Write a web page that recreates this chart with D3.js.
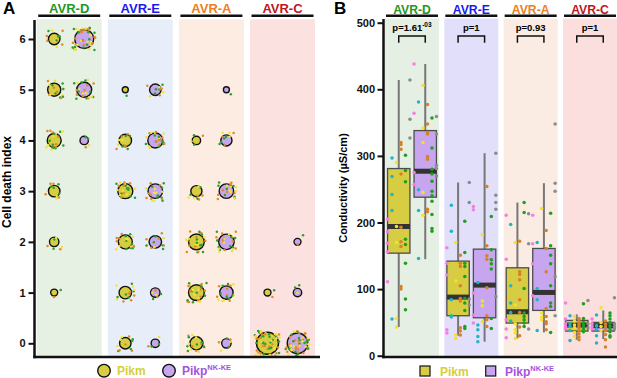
<!DOCTYPE html>
<html><head><meta charset="utf-8">
<script src="https://cdn.jsdelivr.net/npm/d3@7"></script>
<style>
body{margin:0;background:#fff}
svg{display:block;font-family:"Liberation Sans",Arial,Helvetica,sans-serif;font-weight:bold}
</style>
</head><body>
<svg id="c" width="617" height="378"></svg>
<script>
// ---------- data ----------
const effectors = ["AVR-D","AVR-E","AVR-A","AVR-C"];
const constructs = ["Pikm","Pikp"];
const scores = [0,1,2,3,4,5,6];
const effectorColors = ["#1f981f","#1a1aee","#ef7d22","#c0161c"];
const bgA = ["#e6f0e3","#e8eef9","#fcece1","#fbe2e0"];
const bgB = ["#e5efe3","#e1dffa","#fbece3","#fadfde"];
const constructFill = ["#d6cd42","#c7a6ef"];
const legendTextColor = ["#d4cf3a","#a552dd"];

// Panel A: number of leaves per cell death score (index = score 0..6)
const deathPikm = [
  [0,2,6,11,19,16,11],
  [11,14,19,23,14,1,0],
  [16,26,26,10,4,0,0],
  [60,2,0,0,0,0,0]
];
const deathPikp = [
  [0,0,0,0,4,23,42],
  [4,6,14,21,23,11,0],
  [6,17,25,21,10,1,0],
  [51,4,2,0,0,0,0]
];
const repAColors = ["#2ca02c","#e0892c","#f1e33a"];

// Panel B: box stats [low whisker, q1, median, q3, high whisker]
const boxPikm = [[43,154,194,281,414],[30,60,88,142,260],[26,49,66,132,230],[24,37,46,53,62]];
const boxPikp = [[145,238,277,338,438],[21,57,106,160,304],[35,68,95,161,259],[25,37,45,50,68]];
const pLabels = ["p=1.61","p=1","p=0.93","p=1"];
const pExponents = ["-03","","",""];
const repBColors = ["#f47fe0","#1fb5c7","#f4e12c","#d5812b","#1f9e1f","#8c8c8c"];
// conductivity values per effector, per replicate
const condPikm = [
 [[205,186,169,156,111],[297,269,242,218,55],[290,194,170,56,43],[320,317,310,273,193,171,164,104,100],[301,278,261,175,167,139,85,69],[414,355,327]],
 [[162,139,121,39,34],[226,187,84,60,58],[170,112,31,26],[151,139,134,105,86,82,42,37,31],[202,155,139,134,119,86,79,68,44,41],[260,230,85,76]],
 [[211,145,54,40,27],[197,105,79,65,52],[170,76,48,39,34,26],[172,126,122,114,84,65,43,30],[230,215,101,64,59,54,49,44],[213,168,40]],
 [[79,55,48,44,40],[60,48,44,38,23],[59,52,46,42,35,29],[56,52,48,45,42,38,33,28,24],[78,56,50,46,43,40,36],[83,48,42]]
];
const condPikp = [
 [[438,364,275,257],[381,249,218,146],[406,342,320,245,211],[377,348,335,333,299,295,220,216],[357,312,280,273,262,247,240,232,212,191,187],[359,333,286,281,270]],
 [[224,219,94,61,49],[110,46,39,29,21],[182,82,75,51],[254,165,150,145,102,60,54,44],[209,159,144,138,130,56,41],[304,241,230,220,89]],
 [[211,168,138,90],[170,101,84,38],[221,64,58,54],[188,161,126,71,59,51,48,39],[214,165,151,138,105,79,74,35],[348,259,247,119,60]],
 [[55,48,44,40],[61,45,40,30,19],[72,50,44,38],[52,47,43,38,32,24,13],[64,60,55,50,45,41,36,30,28],[87,48,44,40]]
];
const yTicksB = [0,100,200,300,400,500];

// ---------- helpers ----------
function mulberry32(a){return function(){a|=0;a=a+0x6D2B79F5|0;let t=Math.imul(a^a>>>15,1|a);t=t+Math.imul(t^t>>>7,61|t)^t;return((t^t>>>14)>>>0)/4294967296;};}
const jit = mulberry32(12345);

const svg = d3.select("#c");

// ================= Panel A =================
const xA = d3.scaleBand().domain(effectors).range([36.7,315]).paddingInner(0.086);
const subA = d3.scalePoint().domain(constructs).range([0,xA.bandwidth()]).padding(0.583);
const yA = d3.scaleLinear().domain([0,6]).range([343.3,39]);
const rA = d3.scaleSqrt().domain([1,60]).range([3,11]);

const gA = svg.append("g");
gA.append("text").attr("x",3).attr("y",14).attr("font-size",17).text("A");

effectors.forEach((e,i)=>{
  gA.append("rect").attr("x",xA(e)).attr("y",19.3).attr("width",xA.bandwidth()).attr("height",356-19.3).attr("fill",bgA[i]);
  gA.append("text").attr("x",xA(e)+xA.bandwidth()/2).attr("y",13.4).attr("text-anchor","middle")
    .attr("font-size",13).attr("fill",effectorColors[i]).text(e);
  gA.append("line").attr("x1",xA(e)+1.5).attr("x2",xA(e)+xA.bandwidth()-1.5).attr("y1",15.8).attr("y2",15.8)
    .attr("stroke","#111").attr("stroke-width",2.4);
});

const cellsA = [];
effectors.forEach((e,i)=>{
  [deathPikm[i],deathPikp[i]].forEach((arr,j)=>{
    arr.forEach((n,s)=>{ if(n>0) cellsA.push({e, c:constructs[j], j, s, n}); });
  });
});
gA.selectAll("circle.cnt").data(cellsA).join("circle").attr("class","cnt")
  .attr("cx",d=>xA(d.e)+subA(d.c)).attr("cy",d=>yA(d.s)).attr("r",d=>rA(d.n))
  .attr("fill",d=>constructFill[d.j]).attr("stroke","#111").attr("stroke-width",1.4);
const dotsA = [];
cellsA.forEach(d=>{
  const r = rA(d.n), w = r*0.8+4;
  for(let k=0;k<d.n;k++){
    dotsA.push({x:xA(d.e)+subA(d.c)+(jit()*2-1)*w, y:yA(d.s)+(jit()*2-1)*w, col:repAColors[k%3]});
  }
});
gA.selectAll("circle.dot").data(dotsA).join("circle").attr("class","dot")
  .attr("cx",d=>d.x).attr("cy",d=>d.y).attr("r",1.25).attr("fill",d=>d.col);

const axA = gA.append("g").attr("transform","translate(34.5,0)")
  .call(d3.axisLeft(yA).tickValues(scores).tickSize(6).tickPadding(3).tickFormat(d3.format("d")));
axA.select(".domain").remove();
axA.selectAll("line").attr("stroke","#111").attr("stroke-width",2);
axA.selectAll("text").attr("font-size",11).attr("font-weight","bold").attr("fill","#111").attr("font-family","Liberation Sans, Arial, sans-serif");
gA.append("line").attr("x1",34.5).attr("x2",34.5).attr("y1",20).attr("y2",358.2).attr("stroke","#111").attr("stroke-width",2.5);
gA.append("line").attr("x1",33.3).attr("x2",320).attr("y1",357).attr("y2",357).attr("stroke","#111").attr("stroke-width",2.5);
gA.append("text").attr("transform","translate(11,182) rotate(-90)").attr("text-anchor","middle")
  .attr("font-size",12).text("Cell death index");

// legend A
[[104,0],[169,1]].forEach(([x,j])=>{
  gA.append("circle").attr("cx",x).attr("cy",370.7).attr("r",6.3).attr("fill",constructFill[j]).attr("stroke","#111").attr("stroke-width",1.4);
});
gA.append("text").attr("x",117).attr("y",375).attr("font-size",12).attr("fill",legendTextColor[0]).text("Pikm");
const tA = gA.append("text").attr("x",182).attr("y",375).attr("font-size",12).attr("fill",legendTextColor[1]);
tA.append("tspan").text("Pikp");
tA.append("tspan").attr("font-size",7.5).attr("dy",-5).text("NK-KE");

// ================= Panel B =================
const xB = d3.scaleBand().domain(effectors).range([385,617]).paddingInner(0.09);
const subB = d3.scaleBand().domain(constructs).range([0,xB.bandwidth()]).paddingInner(0.155).paddingOuter(0.096);
const yB = d3.scaleLinear().domain([0,500]).range([355.7,22.7]);
const repX = d3.scalePoint().domain(d3.range(6)).range([0,subB.bandwidth()]);

const gB = svg.append("g");
gB.append("text").attr("x",334).attr("y",14).attr("font-size",17).text("B");

effectors.forEach((e,i)=>{
  gB.append("rect").attr("x",xB(e)).attr("y",18.5).attr("width",xB.bandwidth()).attr("height",356-18.5).attr("fill",bgB[i]);
  gB.append("text").attr("x",xB(e)+xB.bandwidth()/2).attr("y",13.6).attr("text-anchor","middle")
    .attr("font-size",12.2).attr("fill",effectorColors[i]).text(e);
  gB.append("line").attr("x1",xB(e)+1).attr("x2",xB(e)+xB.bandwidth()-1).attr("y1",15.8).attr("y2",15.8)
    .attr("stroke","#111").attr("stroke-width",2.4);
  // p value + bracket
  const c1 = xB(e)+subB("Pikm")+subB.bandwidth()/2, c2 = xB(e)+subB("Pikp")+subB.bandwidth()/2;
  const pt = gB.append("text").attr("x",(c1+c2)/2).attr("y",30.5).attr("text-anchor","middle").attr("font-size",9.5);
  pt.append("tspan").text(pLabels[i]);
  if(pExponents[i]) pt.append("tspan").attr("font-size",6.5).attr("dy",-4).text(pExponents[i]);
  gB.append("path").attr("d",`M${c1},42.7V36H${c2}V42.7`).attr("fill","none").attr("stroke","#111").attr("stroke-width",1.5);
});

effectors.forEach((e,i)=>{
  [boxPikm[i],boxPikp[i]].forEach((b,j)=>{
    const c = constructs[j];
    const x0 = xB(e)+subB(c), w = subB.bandwidth(), cx = x0+w/2;
    const [lo,q1,med,q3,hi] = b;
    gB.append("line").attr("x1",cx).attr("x2",cx).attr("y1",yB(hi)).attr("y2",yB(lo)).attr("stroke","#777").attr("stroke-width",2);
    gB.append("rect").attr("x",x0).attr("y",yB(q3)).attr("width",w).attr("height",yB(q1)-yB(q3))
      .attr("fill",constructFill[j]).attr("stroke","#4d4d4d").attr("stroke-width",1.3);
    gB.append("rect").attr("x",x0).attr("y",yB(med)-2.5).attr("width",w).attr("height",5).attr("fill","#333");
  });
});
const dotsB = [];
effectors.forEach((e,i)=>{
  [condPikm[i],condPikp[i]].forEach((reps,j)=>{
    const x0 = xB(e)+subB(constructs[j]);
    reps.forEach((vals,k)=>vals.forEach(v=>dotsB.push({x:x0+repX(k), y:yB(v), col:repBColors[k]})));
  });
});
gB.selectAll("circle.dotb").data(dotsB).join("circle").attr("class","dotb")
  .attr("cx",d=>d.x).attr("cy",d=>d.y).attr("r",1.75).attr("fill",d=>d.col);

const axB = gB.append("g").attr("transform","translate(383.5,0)")
  .call(d3.axisLeft(yB).tickValues(yTicksB).tickSize(6).tickPadding(2.5));
axB.select(".domain").remove();
axB.selectAll("line").attr("stroke","#111").attr("stroke-width",2);
axB.selectAll("text").attr("font-size",11).attr("font-weight","bold").attr("fill","#111").attr("font-family","Liberation Sans, Arial, sans-serif");
gB.append("line").attr("x1",383.5).attr("x2",383.5).attr("y1",19).attr("y2",358.2).attr("stroke","#111").attr("stroke-width",2.5);
gB.append("line").attr("x1",382.3).attr("x2",617).attr("y1",357).attr("y2",357).attr("stroke","#111").attr("stroke-width",2.5);
gB.append("text").attr("transform","translate(347,188) rotate(-90)").attr("text-anchor","middle")
  .attr("font-size",11).text("Conductivity (µS/cm)");

// legend B
[[420,0],[485.7,1]].forEach(([x,j])=>{
  gB.append("rect").attr("x",x).attr("y",366).attr("width",10).attr("height",10).attr("fill",constructFill[j]).attr("stroke","#222").attr("stroke-width",1.3);
});
gB.append("text").attr("x",440).attr("y",375.5).attr("font-size",12).attr("fill",legendTextColor[0]).text("Pikm");
const tB = gB.append("text").attr("x",505).attr("y",375.5).attr("font-size",12).attr("fill",legendTextColor[1]);
tB.append("tspan").text("Pikp");
tB.append("tspan").attr("font-size",7.5).attr("dy",-5).text("NK-KE");
</script>
</body></html>
